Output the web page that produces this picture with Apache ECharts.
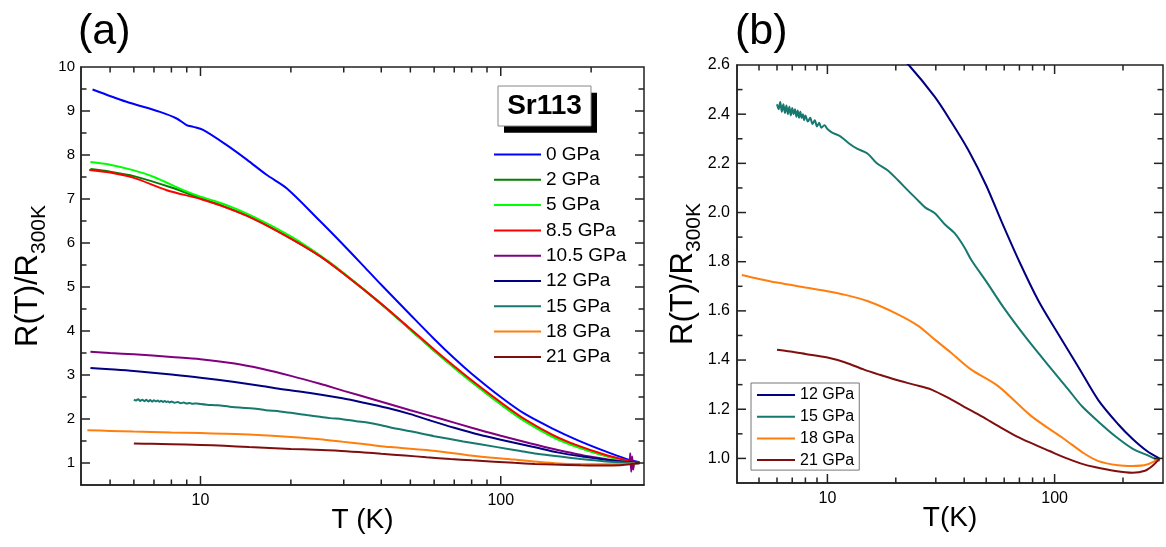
<!DOCTYPE html>
<html><head><meta charset="utf-8">
<script src="https://cdn.jsdelivr.net/npm/echarts@6/dist/echarts.min.js"></script>
<style>html,body{margin:0;padding:0;background:#fff}#c{width:1166px;height:547px}</style>
</head><body><div id="c"></div>
<script>
const FONT = 'Arial, "Liberation Sans", sans-serif';
const seriesNames = ['0 GPa','2 GPa','5 GPa','8.5 GPa','10.5 GPa','12 GPa','15 GPa','18 GPa','21 GPa'];
const seriesColors = ['#0000ff','#008000','#00ff00','#ff0000','#800080','#000080','#16786f','#ff7f0e','#7f0f0f'];
const panelBNames = ['12 GPa','15 GPa','18 GPa','21 GPa'];

const T_0 = [4.37,5.67,7.33,8.33,8.99,9.46,10.2,12.2,14.3,16.6,19.4,25,30,35,40,50,60,70,80,100,120,150,180,220,260,290];
const R_0 = [9.49,9.21,8.98,8.83,8.68,8.64,8.57,8.23,7.89,7.55,7.24,6.5,5.95,5.47,5.05,4.37,3.82,3.38,3.03,2.5,2.12,1.77,1.52,1.28,1.1,1.02];
const T_2 = [4.3,5,6,8,10,12,15,20,25,30,40,50,60,70,80,100,120,150,180,220,260,290];
const R_2 = [7.68,7.62,7.52,7.26,7.02,6.83,6.56,6.1,5.7,5.3,4.61,4.03,3.55,3.17,2.85,2.34,1.96,1.6,1.37,1.18,1.06,1.0];
const T_5 = [4.3,5,6,7,8.77,10,12,15,20,25,30,40,50,60,70,80,100,120,150,180,220,260,290];
const R_5 = [7.84,7.78,7.65,7.5,7.2,7.05,6.88,6.6,6.15,5.72,5.32,4.62,4.03,3.55,3.16,2.84,2.33,1.95,1.58,1.36,1.17,1.05,1.0];
const T_85 = [4.26,5,6,7.72,10,12,15,20,25,30,40,50,60,70,80,100,120,150,180,220,260,290];
const R_85 = [7.66,7.6,7.48,7.2,7.0,6.82,6.55,6.1,5.7,5.3,4.62,4.05,3.58,3.2,2.88,2.38,2.0,1.63,1.4,1.2,1.07,1.0];
const T_105 = [4.3,5,6,8,10,13,16,20,25,30,37.5,50,63.6,80,100,125,150,200,250,268,270,272,274,276,280,290];
const R_105 = [3.53,3.5,3.47,3.41,3.36,3.26,3.14,2.98,2.8,2.64,2.45,2.2,2.0,1.8,1.62,1.45,1.32,1.14,1.04,1.02,1.22,0.8,1.15,0.85,1.02,1.0];
const T_12 = [4.3,5,6,8,10,13,16,19,22.9,29.7,35,41.7,50,58,70,85,100,127.6,156,190,220,255,289];
const R_12 = [3.16,3.13,3.09,3.01,2.94,2.84,2.75,2.67,2.598,2.47,2.37,2.254,2.11,1.97,1.8,1.64,1.53,1.37,1.236,1.14,1.08,1.03,1.0];
const T_15 = [6.0,6.1,6.2,6.3,6.4,6.5,6.6,6.7,6.8,6.9,7.0,7.1,7.2,7.3,7.4,7.5,7.6,7.7,7.8,7.9,8.0,8.2,8.4,8.6,8.8,9.0,9.2,9.4,9.7,10,10.5,11.4,12.5,13.5,15,16.5,18.4,20.5,22.6,25,27,29.7,33,36.3,40,43,50,60,75,97.3,115,132,160,185,220,260,290];
const R_15 = [2.44,2.42,2.45,2.41,2.44,2.405,2.435,2.40,2.43,2.395,2.425,2.40,2.42,2.39,2.415,2.385,2.41,2.385,2.40,2.375,2.395,2.37,2.385,2.36,2.375,2.35,2.365,2.345,2.355,2.34,2.325,2.31,2.28,2.26,2.24,2.2,2.172,2.13,2.09,2.05,2.02,1.997,1.95,1.916,1.86,1.807,1.72,1.61,1.49,1.361,1.28,1.212,1.14,1.09,1.04,1.01,0.99];
const T_18 = [4.2,5,6,6.87,8,10,12,15,20,25,30,35,43,56.6,79,111,135,156,190,220,255,290];
const R_18 = [1.746,1.73,1.715,1.706,1.695,1.68,1.665,1.64,1.59,1.54,1.48,1.43,1.361,1.293,1.172,1.077,1.02,0.989,0.972,0.969,0.975,1.0];
const T_21 = [6.0,6.87,8,10,12,14.5,17,20,24,28.7,35,40,48,56.6,68,80,95,111,130,150,185,220,250,270,290];
const R_21 = [1.442,1.435,1.425,1.41,1.39,1.361,1.34,1.32,1.3,1.28,1.24,1.21,1.17,1.131,1.09,1.06,1.03,1.003,0.98,0.965,0.949,0.942,0.95,0.97,1.0];

const xTickValues = [5,6,7,8,9,10,20,30,40,50,60,70,80,90,100,200];
const xMajorTicks = [10,100];
const yTickValuesA = [1,1.5,2,2.5,3,3.5,4,4.5,5,5.5,6,6.5,7,7.5,8,8.5,9,9.5];
const yTickValuesB = [1.0,1.1,1.2,1.3,1.4,1.5,1.6,1.7,1.8,1.9,2.0,2.1,2.2,2.3,2.4,2.5];

const allT = [T_0,T_2,T_5,T_85,T_105,T_12,T_15,T_18,T_21];
const allR = [R_0,R_2,R_5,R_85,R_105,R_12,R_15,R_18,R_21];
function zipTR(t, r){ return t.map((v,i)=>[v, r[i]]); }

const AXC = '#222';
const X_MIN = 4, X_MAX = 300, YA_MIN = 0.5, YA_MAX = 10, YB_MIN = 0.9, YB_MAX = 2.6;

const lineSeries = [];
seriesNames.forEach((n,i)=>{
  lineSeries.push({type:'line', name:n, xAxisIndex:0, yAxisIndex:0, data: zipTR(allT[i], allR[i]),
    showSymbol:false, symbol:'none', smooth:0.3, lineStyle:{width:2, color:seriesColors[i]}, itemStyle:{color:seriesColors[i]}, z:3});
});
panelBNames.forEach(n=>{
  const i = seriesNames.indexOf(n);
  lineSeries.push({type:'line', name:n, xAxisIndex:1, yAxisIndex:1, data: zipTR(allT[i], allR[i]),
    showSymbol:false, symbol:'none', smooth:0.3, clip:true, lineStyle:{width:2, color:seriesColors[i]}, itemStyle:{color:seriesColors[i]}, z:3});
});

function xLabelFmt(v){ for (const m of xMajorTicks){ if (Math.abs(v-m) < 1e-6*m) return String(m); } return ''; }

const yName = {
  rich:{ m:{fontSize:31, fontFamily:FONT, color:'#000', verticalAlign:'top', lineHeight:34},
         s:{fontSize:21, fontFamily:FONT, color:'#000', verticalAlign:'top', lineHeight:21, padding:[16,0,0,0]} }
};

const sr113 = [
  {type:'rect', x:504, y:92.7, shape:{width:93, height:40}, style:{fill:'#000'}, z:10},
  {type:'rect', x:498, y:86, shape:{width:93, height:40}, style:{fill:'#fff', stroke:'#888', lineWidth:1}, z:11},
  {type:'text', x:544.5, y:106.5, style:{text:'Sr113', fontSize:28, fontWeight:'bold', fontFamily:FONT, fill:'#000', align:'center', verticalAlign:'middle'}, z:12}
];

const chart = echarts.init(document.getElementById('c'), null, {renderer:'canvas'});
chart.setOption({
  animation:false,
  backgroundColor:'#fff',
  title:[
    {text:'(a)', left:78, top:11, padding:0, textStyle:{fontSize:43, fontWeight:'normal', fontFamily:FONT, color:'#000'}},
    {text:'(b)', left:735, top:11, padding:0, textStyle:{fontSize:43, fontWeight:'normal', fontFamily:FONT, color:'#000'}}
  ],
  grid:[
    {left:81, top:67, width:563, height:418, show:true, borderColor:AXC, borderWidth:1.5, backgroundColor:'transparent'},
    {left:737, top:65, width:427, height:418, show:true, borderColor:AXC, borderWidth:1.5, backgroundColor:'transparent'}
  ],
  xAxis:[
    {type:'log', gridIndex:0, min:X_MIN, max:X_MAX, logBase:10, axisLine:{show:true, lineStyle:{color:AXC,width:1.5}},
      axisTick:{show:false}, minorTick:{show:false}, splitLine:{show:false}, minorSplitLine:{show:false},
      axisLabel:{formatter:xLabelFmt, fontSize:16, fontFamily:FONT, color:'#000', margin:8},
      name:'T (K)', nameLocation:'middle', nameGap:21, nameMoveOverlap:false, nameTextStyle:{fontSize:28, fontFamily:FONT, color:'#000', verticalAlign:'top'}},
    {type:'log', gridIndex:1, min:X_MIN, max:X_MAX, logBase:10, axisLine:{show:true, lineStyle:{color:AXC,width:1.5}},
      axisTick:{show:false}, minorTick:{show:false}, splitLine:{show:false}, minorSplitLine:{show:false},
      axisLabel:{formatter:xLabelFmt, fontSize:16, fontFamily:FONT, color:'#000', margin:8},
      name:'T(K)', nameLocation:'middle', nameGap:21, nameMoveOverlap:false, nameTextStyle:{fontSize:28, fontFamily:FONT, color:'#000', verticalAlign:'top'}}
  ],
  yAxis:[
    {type:'value', gridIndex:0, min:YA_MIN, max:YA_MAX, interval:0.5, axisLine:{show:true, lineStyle:{color:AXC,width:1.5}},
      axisTick:{show:false}, splitLine:{show:false},
      axisLabel:{formatter:v=>Math.abs(v-Math.round(v))<1e-6?String(Math.round(v)):'', fontSize:15, fontFamily:FONT, color:'#000', margin:6},
      name:'{m|R(T)/R}{s|300K}', nameLocation:'middle', nameRotate:90, nameGap:34, nameMoveOverlap:false, nameTextStyle:yName},
    {type:'value', gridIndex:1, min:YB_MIN, max:YB_MAX, interval:0.1, axisLine:{show:true, lineStyle:{color:AXC,width:1.5}},
      axisTick:{show:false}, splitLine:{show:false},
      axisLabel:{formatter:v=>{const k=Math.round(v*10); return k%2===0?(k/10).toFixed(1):'';}, fontSize:16, fontFamily:FONT, color:'#000', margin:7},
      name:'{m|R(T)/R}{s|300K}', nameLocation:'middle', nameRotate:90, nameGap:35, nameMoveOverlap:false, nameTextStyle:yName}
  ],
  legend:[
    {data:seriesNames, orient:'vertical', left:494, top:145, padding:0, icon:'rect', itemWidth:47, itemHeight:2, itemGap:6.3,
      textStyle:{fontSize:19, lineHeight:19, fontFamily:FONT, color:'#000'}, selectedMode:false},
    {data:panelBNames, orient:'vertical', left:751, top:383, padding:[4,5,2,6], icon:'rect', itemWidth:38, itemHeight:2, itemGap:5.7,
      borderColor:'#777', borderWidth:1, backgroundColor:'#fff',
      textStyle:{fontSize:16, lineHeight:16, fontFamily:FONT, color:'#000'}, selectedMode:false}
  ],
  graphic:{elements: sr113},
  series: lineSeries
});

// Tick marks (inside, on all four sides), placed through the axes' own scales
function tickEls(xi, yi, yMin, yMax, yTicks, isMajorY){
  const els = [];
  const c = p => chart.convertToPixel({xAxisIndex:xi, yAxisIndex:yi}, p);
  const st = {stroke:AXC, lineWidth:1.5};
  xTickValues.forEach(v=>{
    const L = xMajorTicks.includes(v) ? 9 : 5.5;
    const b = c([v, yMin]), t = c([v, yMax]);
    els.push({type:'line', silent:true, z:20, shape:{x1:b[0],y1:b[1],x2:b[0],y2:b[1]-L}, style:st});
    els.push({type:'line', silent:true, z:20, shape:{x1:t[0],y1:t[1],x2:t[0],y2:t[1]+L}, style:st});
  });
  yTicks.forEach(v=>{
    const L = isMajorY(v) ? 9 : 5.5;
    const l = c([X_MIN, v]), r = c([X_MAX, v]);
    els.push({type:'line', silent:true, z:20, shape:{x1:l[0],y1:l[1],x2:l[0]+L,y2:l[1]}, style:st});
    els.push({type:'line', silent:true, z:20, shape:{x1:r[0],y1:r[1],x2:r[0]-L,y2:r[1]}, style:st});
  });
  return els;
}
const ticks = tickEls(0, 0, YA_MIN, YA_MAX, yTickValuesA, v=>Number.isInteger(v))
  .concat(tickEls(1, 1, YB_MIN, YB_MAX, yTickValuesB, v=>Math.round(v*10)%2===0));
chart.setOption({graphic:{elements: sr113.concat(ticks)}});
</script>
</body></html>
